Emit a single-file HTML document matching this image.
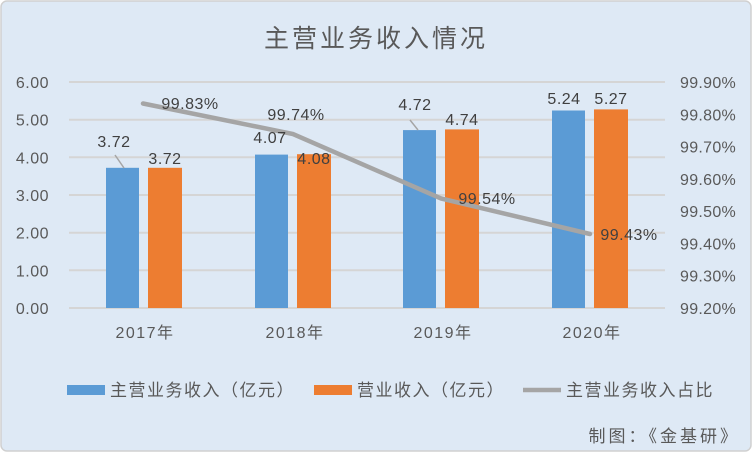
<!DOCTYPE html>
<html><head><meta charset="utf-8"><style>
body{margin:0;width:752px;height:452px;overflow:hidden;background:#fff}
</style></head><body>
<svg width="752" height="452" xmlns="http://www.w3.org/2000/svg" font-family="Liberation Sans, Noto Sans CJK SC, sans-serif">
<rect x="1" y="1" width="750" height="450" rx="6" fill="#dee9f5" stroke="#d0d0d0" stroke-width="1.5"/>
<text x="376" y="47" font-size="25" letter-spacing="3" fill="#595959" text-anchor="middle">主营业务收入情况</text>
<g stroke="#d5d5d5" stroke-width="2">
<line x1="69" x2="665" y1="82" y2="82"/><line x1="69" x2="665" y1="119.7" y2="119.7"/><line x1="69" x2="665" y1="157.3" y2="157.3"/><line x1="69" x2="665" y1="195" y2="195"/><line x1="69" x2="665" y1="232.7" y2="232.7"/><line x1="69" x2="665" y1="270.3" y2="270.3"/><line x1="69" x2="665" y1="308" y2="308"/>
</g>
<g font-size="16" letter-spacing="0.5" fill="#595959" text-anchor="end">
<text x="49" y="88">6.00</text><text x="49" y="125.7">5.00</text><text x="49" y="163.3">4.00</text><text x="49" y="201">3.00</text><text x="49" y="238.7">2.00</text><text x="49" y="276.3">1.00</text><text x="49" y="314">0.00</text>
</g>
<g font-size="16" letter-spacing="0.3" fill="#595959">
<text x="680" y="88">99.90%</text><text x="680" y="120.3">99.80%</text><text x="680" y="152.6">99.70%</text><text x="680" y="184.9">99.60%</text><text x="680" y="217.1">99.50%</text><text x="680" y="249.4">99.40%</text><text x="680" y="281.7">99.30%</text><text x="680" y="314">99.20%</text>
</g>
<g fill="#5b9bd5">
<rect x="106" y="167.8" width="33" height="140.2"/><rect x="255" y="154.6" width="33" height="153.4"/><rect x="403" y="130.1" width="33" height="177.9"/><rect x="552" y="110.5" width="33" height="197.5"/>
</g>
<g fill="#ed7d31">
<rect x="148" y="167.8" width="34" height="140.2"/><rect x="297" y="154.2" width="34" height="153.8"/><rect x="445" y="129.4" width="34" height="178.6"/><rect x="594" y="109.4" width="34" height="198.6"/>
</g>
<line x1="115" y1="155" x2="124" y2="168" stroke="#a5a5a5" stroke-width="1.5"/>
<line x1="410" y1="120" x2="418" y2="130" stroke="#a5a5a5" stroke-width="1.5"/>
<polyline points="143,103.5 293,134 441,198.5 590,234" fill="none" stroke="#a5a5a5" stroke-width="4.5" stroke-linecap="round"/>
<g font-size="16" letter-spacing="0.5" fill="#404040" text-anchor="middle">
<text x="114" y="147">3.72</text><text x="165" y="164">3.72</text>
<text x="270" y="143">4.07</text><text x="314" y="164">4.08</text>
<text x="415" y="110">4.72</text><text x="462" y="125">4.74</text>
<text x="564" y="104">5.24</text><text x="611" y="104">5.27</text>
<text x="190" y="109">99.83%</text><text x="296" y="120">99.74%</text>
<text x="487" y="204">99.54%</text><text x="629" y="240">99.43%</text>
</g>
<g font-size="16" letter-spacing="1.5" fill="#595959" text-anchor="middle">
<text x="145" y="338">2017年</text><text x="295" y="338">2018年</text><text x="443" y="338">2019年</text><text x="592" y="338">2020年</text>
</g>
<rect x="67" y="385" width="38" height="10" fill="#5b9bd5"/>
<text x="110" y="396" font-size="17" letter-spacing="1.5" fill="#595959">主营业务收入（亿元）</text>
<rect x="314" y="385" width="38" height="10" fill="#ed7d31"/>
<text x="357" y="396" font-size="17" letter-spacing="1.5" fill="#595959">营业收入（亿元）</text>
<line x1="523" y1="390" x2="561" y2="390" stroke="#a5a5a5" stroke-width="4.5"/>
<text x="566" y="396" font-size="17" letter-spacing="1.5" fill="#595959">主营业务收入占比</text>
<text x="740" y="442" font-size="17" letter-spacing="3" fill="#595959" text-anchor="end">制图：《金基研》</text>
</svg>
</body></html>
